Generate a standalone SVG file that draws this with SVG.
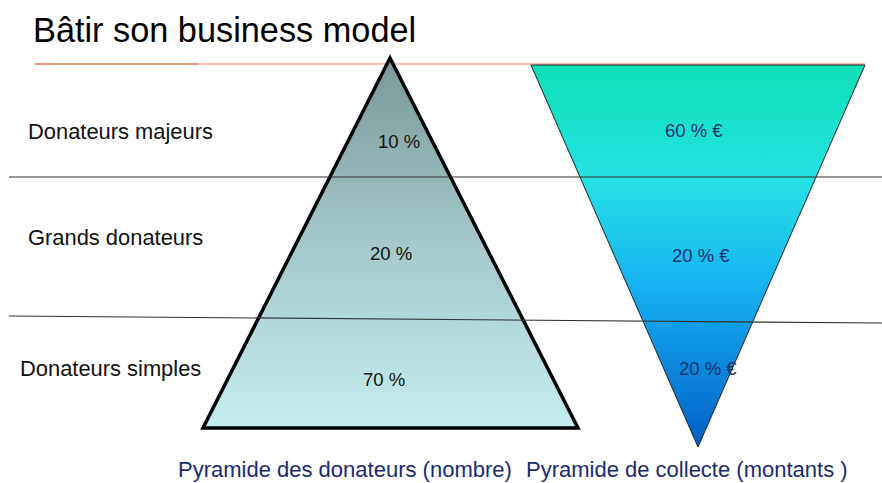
<svg xmlns="http://www.w3.org/2000/svg" width="882" height="483" viewBox="0 0 882 483">
  <defs>
    <linearGradient id="donorFill" x1="0" y1="0" x2="0" y2="1">
      <stop offset="0" stop-color="#7a9898"/>
      <stop offset="0.5" stop-color="#a4c8c9"/>
      <stop offset="1" stop-color="#c4eef0"/>
    </linearGradient>
    <linearGradient id="fundFill" x1="0" y1="0" x2="0" y2="1">
      <stop offset="0" stop-color="#0ee0b4"/>
      <stop offset="0.3" stop-color="#26e2e6"/>
      <stop offset="0.6" stop-color="#14aef0"/>
      <stop offset="1" stop-color="#005ec6"/>
    </linearGradient>
    <style>
      .label { font-family: "Liberation Sans", Arial, sans-serif; font-size: 21.9px; fill: #111; }
      .pct { font-family: "Liberation Sans", Arial, sans-serif; font-size: 18.5px; fill: #111; }
      .eur { font-family: "Liberation Sans", Arial, sans-serif; font-size: 18.5px; fill: #17306e; }
      .caption { font-family: "Liberation Sans", Arial, sans-serif; font-size: 22px; fill: #1b2b70; }
      .band { stroke: #333; stroke-width: 1.2; fill: none; }
    </style>
  </defs>

  <!-- heading -->
  <g id="title">
    <text x="33" y="42" font-family="Liberation Sans, Arial, sans-serif" font-size="34.3" fill="#000">Bâtir son business model</text>
    <line x1="35" y1="64" x2="198" y2="64" stroke="#e8704c" stroke-width="1.6"/>
    <line x1="198" y1="64" x2="865" y2="64" stroke="#f2ad96" stroke-width="1.6"/>
  </g>

  <!-- donor pyramid (count) -->
  <g id="donor-pyramid">
    <polygon points="390,58 578,428 203,428" fill="url(#donorFill)" stroke="#000" stroke-width="3.5" stroke-linejoin="miter"/>
    <text class="pct" x="378" y="148">10 %</text>
    <text class="pct" x="370" y="260">20 %</text>
    <text class="pct" x="363" y="386">70 %</text>
  </g>

  <!-- fundraising pyramid (amounts) -->
  <g id="fund-pyramid">
    <polygon points="531,65 865,65 698,447" fill="url(#fundFill)" stroke="#222" stroke-width="1"/>
    <text class="eur" x="665" y="137">60 % €</text>
    <text class="eur" x="672" y="262">20 % €</text>
    <text class="eur" x="679" y="375">20 % €</text>
  </g>

  <!-- band separators -->
  <g id="separators">
    <line class="band" x1="9" y1="177" x2="882" y2="177" stroke="#777"/>
    <line class="band" x1="9" y1="316" x2="882" y2="323"/>
  </g>

  <!-- tier labels -->
  <g id="tier-labels">
    <text class="label" x="28" y="139">Donateurs majeurs</text>
    <text class="label" x="28" y="245">Grands donateurs</text>
    <text class="label" x="20" y="376">Donateurs simples</text>
  </g>

  <!-- captions -->
  <g id="captions">
    <text class="caption" x="178" y="477">Pyramide des donateurs (nombre)</text>
    <text class="caption" x="526" y="477">Pyramide de collecte (montants )</text>
  </g>
</svg>
